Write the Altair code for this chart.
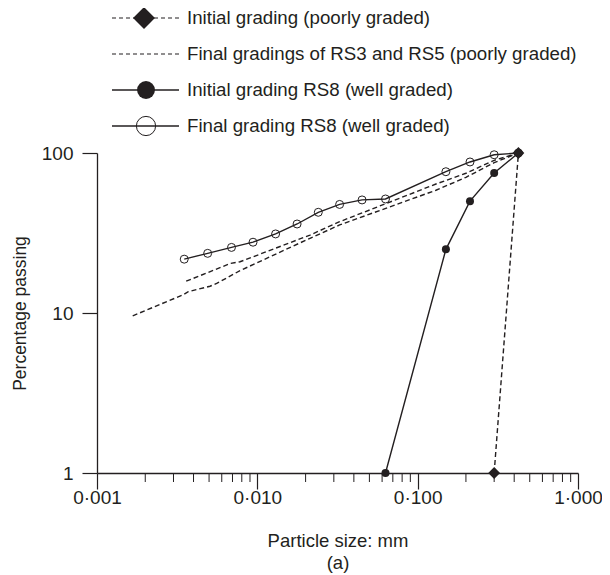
import altair as alt
import pandas as pd

# ---------------- data ----------------
# Final gradings of RS3 and RS5 (poorly graded) - dashed, no markers
rs3_size = [0.0036, 0.0068, 0.0078, 0.0213, 0.0326, 0.13, 0.2, 0.3, 0.425]
rs3_pass = [15.8, 20.4, 20.9, 30.7, 37.2, 64.0, 74.7, 90.0, 100.0]
rs5_size = [0.00167, 0.00345, 0.00371, 0.00507, 0.00558, 0.0078, 0.0213, 0.0326, 0.13, 0.2, 0.3, 0.425]
rs5_pass = [9.6, 13.0, 13.6, 14.7, 15.3, 18.4, 29.3, 35.5, 58.5, 70.5, 87.0, 100.0]

# Initial grading (poorly graded) - dashed with diamonds
init_poor_size = [0.3, 0.425]
init_poor_pass = [1.0, 100.0]

# Initial grading RS8 (well graded) - solid with filled circles
init_rs8_size = [0.063, 0.15, 0.212, 0.3, 0.425]
init_rs8_pass = [1.0, 25.0, 50.0, 75.0, 100.0]

# Final grading RS8 (well graded) - solid with open circles
final_rs8_size = [0.0035, 0.0049, 0.0069, 0.0094, 0.013, 0.0177, 0.024, 0.0326,
                  0.045, 0.063, 0.15, 0.212, 0.3, 0.425]
final_rs8_pass = [21.7, 23.6, 25.7, 27.7, 31.2, 36.0, 42.6, 47.7,
                  50.9, 51.6, 76.4, 87.9, 97.5, 100.0]

# axis ticks
x_major = [0.001, 0.01, 0.1, 1.0]
x_minor = [0.002, 0.003, 0.004, 0.005, 0.006, 0.007, 0.008, 0.009,
           0.02, 0.03, 0.04, 0.05, 0.06, 0.07, 0.08, 0.09,
           0.2, 0.3, 0.4, 0.5, 0.6, 0.7, 0.8, 0.9]
y_major = [1, 10, 100]

# legend
legend_labels = ["Initial grading (poorly graded)",
                 "Final gradings of RS3 and RS5 (poorly graded)",
                 "Initial grading RS8 (well graded)",
                 "Final grading RS8 (well graded)"]
legend_line = ["dashed", "dashed", "solid", "solid"]
legend_marker = ["diamond", "none", "filled", "open"]

INK = "#231f20"
FONT = "Liberation Sans"
FS = 19

series_def = [
    ("RS3", rs3_size, rs3_pass),
    ("RS5", rs5_size, rs5_pass),
    ("InitPoor", init_poor_size, init_poor_pass),
    ("InitRS8", init_rs8_size, init_rs8_pass),
    ("FinalRS8", final_rs8_size, final_rs8_pass),
]
rows = []
for name, xs, ys in series_def:
    for xv, yv in zip(xs, ys):
        rows.append({"series": name, "size": xv, "pct": yv})
df = pd.DataFrame(rows)
df_minor = pd.DataFrame({"size": x_minor})
df_leg = pd.DataFrame({"row": list(range(len(legend_labels))), "label": legend_labels,
                       "line": legend_line, "marker": legend_marker})

xscale = alt.Scale(type="log", domain=[0.001, 1])
yscale = alt.Scale(type="log", domain=[1, 100])

xaxis = alt.Axis(values=x_major, labelExpr="replace(format(datum.value, '.3f'), '.', '·')",
                 tickSize=16, labelPadding=-1, labelFlush=False, labelOverlap=False,
                 grid=False, title=["Particle size: mm", "(a)"], titlePadding=24,
                 titleLineHeight=22, titleFontSize=18.5)
yaxis = alt.Axis(values=y_major, format="d", tickSize=15, labelPadding=9,
                 labelFlush=False, labelOverlap=False, grid=False,
                 title="Percentage passing", titlePadding=12, titleFontSize=17.5)

X = alt.X("size:Q", scale=xscale, axis=xaxis)
Y = alt.Y("pct:Q", scale=yscale, axis=yaxis)

base = alt.Chart(df)

dashed = base.transform_filter(
    alt.FieldOneOfPredicate(field="series", oneOf=["RS3", "RS5", "InitPoor"])
).mark_line(color=INK, strokeWidth=1.4, strokeDash=[5, 3]).encode(x=X, y=Y, detail="series:N")

solid = base.transform_filter(
    alt.FieldOneOfPredicate(field="series", oneOf=["InitRS8", "FinalRS8"])
).mark_line(color=INK, strokeWidth=1.4).encode(x=X, y=Y, detail="series:N")

open_pts = base.transform_filter(alt.datum.series == "FinalRS8").mark_point(
    shape="circle", filled=False, color=INK, size=64, strokeWidth=1, opacity=1
).encode(x=X, y=Y)

filled_pts = base.transform_filter(alt.datum.series == "InitRS8").mark_point(
    shape="circle", filled=True, color=INK, size=64, opacity=1
).encode(x=X, y=Y)

diamonds = base.transform_filter(alt.datum.series == "InitPoor").mark_point(
    shape="diamond", filled=True, color=INK, size=140, opacity=1
).encode(x=X, y=Y)

minor = alt.Chart(df_minor).mark_rule(color=INK, strokeWidth=1).encode(
    x=X, y=alt.value(320), y2=alt.value(329)
)

main = alt.layer(dashed, solid, open_pts, filled_pts, diamonds, minor)

# ---------------- legend (drawn above the plot) ----------------
LY = alt.Y("row:Q", scale=alt.Scale(domain=[0, 3], range=[-135, -27]), axis=None)
lbase = alt.Chart(df_leg)

leg_dash = lbase.transform_filter(alt.datum.line == "dashed").mark_rule(
    color=INK, strokeWidth=1.2, strokeDash=[4, 3]
).encode(x=alt.value(15), x2=alt.value(82), y=LY)
leg_solid = lbase.transform_filter(alt.datum.line == "solid").mark_rule(
    color=INK, strokeWidth=1.4
).encode(x=alt.value(15), x2=alt.value(82), y=LY)
leg_diam = lbase.transform_filter(alt.datum.marker == "diamond").mark_point(
    shape="diamond", filled=True, color=INK, size=480, opacity=1
).encode(x=alt.value(47), y=LY)
leg_filled = lbase.transform_filter(alt.datum.marker == "filled").mark_point(
    shape="circle", filled=True, color=INK, size=320, opacity=1
).encode(x=alt.value(49), y=LY)
leg_open = lbase.transform_filter(alt.datum.marker == "open").mark_point(
    shape="circle", filled=False, color=INK, size=370, strokeWidth=1, opacity=1
).encode(x=alt.value(49), y=LY)
leg_text = lbase.mark_text(
    align="left", baseline="middle", font=FONT, fontSize=18.7, color=INK
).encode(x=alt.value(90), y=LY, text="label:N")

legend = alt.layer(leg_dash, leg_solid, leg_diam, leg_filled, leg_open, leg_text)

chart = alt.layer(main, legend).resolve_scale(y="independent").properties(
    width=481, height=320,
    padding={"left": 89, "top": 145, "right": 24, "bottom": 101},
    autosize=alt.AutoSizeParams(type="none"),
).configure_view(stroke=None).configure_axis(
    domainColor=INK, domainWidth=1.3, tickColor=INK, tickWidth=1.2,
    labelColor=INK, labelFont=FONT, labelFontSize=FS,
    titleColor=INK, titleFont=FONT, titleFontSize=FS, titleFontWeight="normal",
)

chart.save("out.html", embed_options={"renderer": "svg", "actions": False})
